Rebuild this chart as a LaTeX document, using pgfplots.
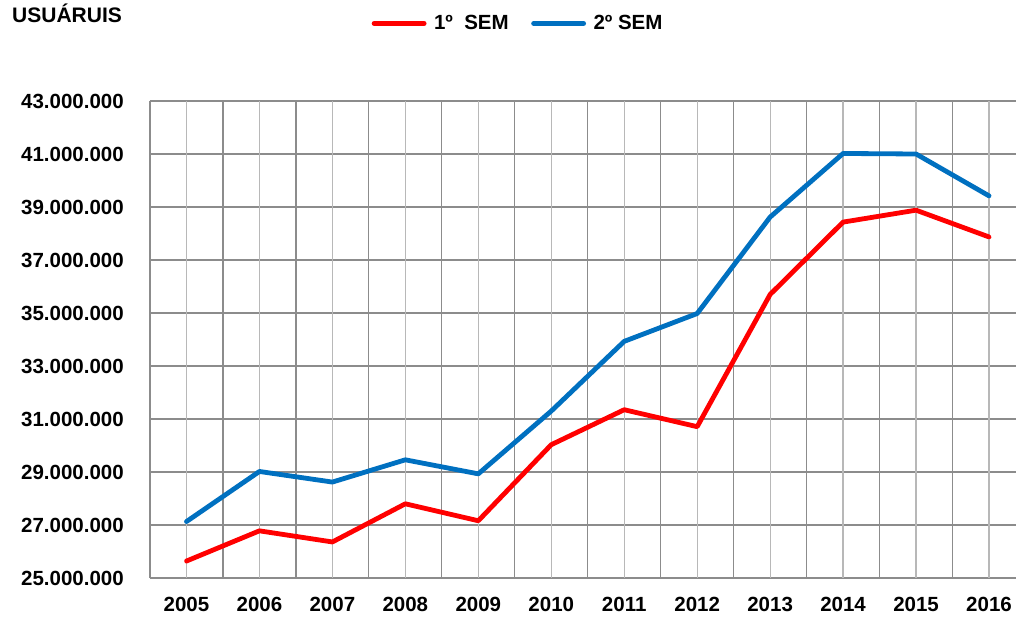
\documentclass[border=0pt]{standalone}
\usepackage{pgfplots}
\pgfplotsset{compat=1.18}
\usepackage{fontspec}
\setmainfont{Liberation Sans}
\definecolor{serRed}{HTML}{FF0000}
\definecolor{serBlue}{HTML}{0070C0}
\definecolor{gridDark}{HTML}{8C8C8C}
\definecolor{gridLight}{HTML}{B8B8B8}
\begin{document}
\begin{tikzpicture}[x=1bp,y=1bp]
\path[use as bounding box] (-150bp,-43bp) rectangle (866bp,578bp);
\node[anchor=base west, inner sep=0pt, font=\fontsize{21bp}{24bp}\selectfont\bfseries] at (-138bp,555bp) {USUÁRUIS};
\begin{axis}[
  at={(0bp,0bp)}, anchor=south west,
  scale only axis, width=866bp, height=477bp,
  xmin=2004.5, xmax=2016.37,
  ymin=25000000, ymax=43000000,
  xtick={2004.5,2005.5,2006.5,2007.5,2008.5,2009.5,2010.5,2011.5,2012.5,2013.5,2014.5,2015.5,2016.5},
  xticklabels={},
  extra x ticks={2005,2006,2007,2008,2009,2010,2011,2012,2013,2014,2015,2016},
  extra x tick labels={2005,2006,2007,2008,2009,2010,2011,2012,2013,2014,2015,2016},
  extra x tick style={grid=major, major grid style={draw=gridLight, line width=1.2bp}},
  ytick={25000000,27000000,29000000,31000000,33000000,35000000,37000000,39000000,41000000,43000000},
  yticklabels={25.000.000,27.000.000,29.000.000,31.000.000,33.000.000,35.000.000,37.000.000,39.000.000,41.000.000,43.000.000},
  scaled y ticks=false,
  grid=major,
  major grid style={draw=gridDark, line width=1.2bp},
  axis line style={draw=none},
  major tick length=0pt, minor tick length=0pt,
  tick label style={inner sep=0pt, font=\fontsize{20.5bp}{24bp}\selectfont\bfseries},
  xticklabel shift=19bp,
  yticklabel shift=26bp,
  legend style={at={(0.2529,1.1625)}, anchor=west, draw=none, fill=none, inner sep=0pt,
    legend columns=2, nodes={inner sep=0pt},
    font=\fontsize{20.5bp}{24bp}\selectfont\bfseries,
    /tikz/every odd column/.append style={column sep=5bp},
    /tikz/every even column/.append style={column sep=20bp}},
  legend image code/.code={\path (0bp,0bp) (55bp,0bp); \draw[#1, line cap=round] (2.5bp,0bp) -- (52.5bp,0bp);},
  clip=false,
]
\addplot[serRed, line width=4.8bp, line join=round, line cap=round] coordinates {
 (2005,25640000) (2006,26780000) (2007,26360000) (2008,27800000) (2009,27160000) (2010,30030000)
 (2011,31350000) (2012,30710000) (2013,35700000) (2014,38430000) (2015,38880000) (2016,37870000)};
\addlegendentry{1º\ \ SEM}
\addplot[serBlue, line width=4.8bp, line join=round, line cap=round] coordinates {
 (2005,27130000) (2006,29020000) (2007,28620000) (2008,29460000) (2009,28930000) (2010,31300000)
 (2011,33930000) (2012,34980000) (2013,38620000) (2014,41020000) (2015,41000000) (2016,39420000)};
\addlegendentry{2º SEM}
\end{axis}
\end{tikzpicture}
\end{document}
